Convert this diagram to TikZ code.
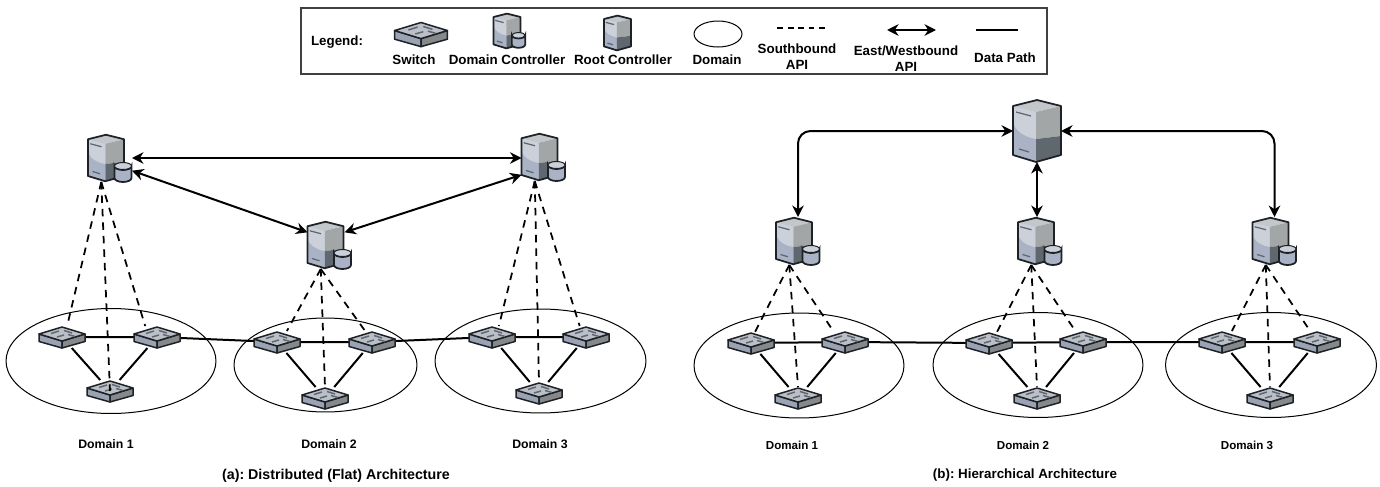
\documentclass[tikz,border=0pt]{standalone}
\usepackage{fontspec}
\setmainfont{Liberation Sans}
\frenchspacing
\usetikzlibrary{arrows.meta,shapes.geometric}

\definecolor{iconTop}{HTML}{C3C6CB}
\definecolor{iconPale}{HTML}{CBD0D9}
\definecolor{iconBlue}{HTML}{A9B3C5}
\definecolor{iconGrey}{HTML}{A3A6A6}
\definecolor{iconDark}{HTML}{5F676F}
\definecolor{iconLine}{HTML}{1E2226}
\definecolor{switchTop}{HTML}{BBBFC8}
\definecolor{switchLeft}{HTML}{9AA3B3}
\definecolor{switchRight}{HTML}{85898B}

\tikzset{
  switchicon/.pic={
    \filldraw[iconLine,fill=switchLeft,line width=.03cm,line join=round] (-23,-3) -- (0,4) -- (0,11) -- (-23,4.5) -- cycle;
    \filldraw[iconLine,fill=switchRight,line width=.03cm,line join=round] (23,-3) -- (0,4) -- (0,11) -- (23,4.5) -- cycle;
    \filldraw[iconLine,fill=switchTop,line width=.03cm,line join=round] (-23,-3) -- (0,-10) -- (23,-3) -- (0,4) -- cycle;
    \draw[iconDark,line width=.03cm] (-11,-3.5) -- (-3,-6) (2,-6.5) -- (10,-4) (-5,0) -- (2,-2) (6,-2.5) -- (13,-.5);
  },
  towericon/.pic={
    \fill[iconTop] (-24,-25) -- (0,-31) -- (24,-25) -- (-1,-19) -- cycle;
    \fill[iconBlue] (-24,-25) -- (-1,-19) -- (-1,31) -- (-24,24) -- cycle;
    \fill[iconPale] (-24,-25) -- (-1,-19) -- (-1,8) .. controls (-12,6) and (-24,0) .. (-24,-12) -- cycle;
    \fill[iconGrey] (-1,-19) -- (24,-25) -- (24,5) -- (-1,8) -- cycle;
    \fill[iconDark] (-1,8) -- (24,5) -- (24,24) -- (-1,31) -- cycle;
    \draw[iconLine,line width=.035cm,line join=round] (-24,-25) -- (0,-31) -- (24,-25) -- (24,24) -- (-1,31) -- (-24,24) -- cycle;
    \draw[iconDark,line width=.025cm] (-21,-19) -- (-6,-15) (-18,18) -- (-8,21);
  },
  dbicon/.pic={
    \filldraw[iconLine,fill=iconBlue,line width=.035cm] (-8.5,-6) -- (-8.5,6) arc[start angle=180,end angle=0,x radius=8.5,y radius=4] -- (8.5,-6) arc[start angle=0,end angle=180,x radius=8.5,y radius=4] -- cycle;
    \filldraw[iconLine,fill=iconPale,line width=.02cm] (0,-6) ellipse [x radius=8.5,y radius=3.5];
  },
  ctrlicon/.pic={
    \pic[scale=.75] at (-4,0) {towericon};
    \pic at (13,14) {dbicon};
  },
  ctrlbox/.style={minimum width=.88cm,minimum height=.96cm,inner sep=0pt,outer sep=0pt},
  switchbox/.style={minimum width=.92cm,minimum height=.44cm,inner sep=0pt,outer sep=0pt},
  rootbox/.style={minimum width=.96cm,minimum height=1.24cm,inner sep=0pt,outer sep=0pt},
  domainbox/.style={draw,ellipse,line width=.02cm,inner sep=0pt},
  eastwest/.style={{Stealth[length=.23cm,width=.23cm]}-{Stealth[length=.23cm,width=.23cm]},line width=.04cm},
  southbound/.style={dash pattern=on .15cm off .12cm,line width=.035cm},
  datapath/.style={line width=.04cm},
  txt/.style={font=\bfseries\fontsize{7.6}{9.1}\selectfont,align=center,inner sep=0pt},
  captiontxt/.style={txt,font=\bfseries\fontsize{8.1}{10}\selectfont}
}

\begin{document}
\begin{tikzpicture}[x=.02cm,y=-.02cm]
    \useasboundingbox (0,0) rectangle (1380,487);
    %
    % Legend
    \node[draw=black!75,line width=.035cm,minimum width=14.92cm,minimum height=1.32cm,inner sep=0pt] (legend) at (674,41) {};
    \node[txt] (legendTitle) at (337,42) {Legend:};
    \pic[scale=1.15] at (421,34) {switchicon};
    \node[txt] (legendSwitch) at (414,60) {Switch};
    \pic[scale=.56] at (507,31) {towericon};
    \pic[scale=.78] at (518.5,40) {dbicon};
    \node[txt] (legendDomainCtrl) at (507,60) {Domain Controller};
    \pic[scale=.56] at (617.5,33) {towericon};
    \node[txt] (legendRootCtrl) at (623,60) {Root Controller};
    \node[domainbox,minimum width=.96cm,minimum height=.52cm] (legendDomain) at (718,34) {};
    \node[txt] (legendDomainTxt) at (717,60) {Domain};
    \coordinate (southL) at (777,28);
    \coordinate (southR) at (825,28);
    \draw[southbound,dash pattern=on .12cm off .09cm,line width=.03cm] (southL) -- (southR);
    \node[txt] (legendSouth) at (797,57) {Southbound\\API};
    \coordinate (ewL) at (887,30);
    \coordinate (ewR) at (936,30);
    \draw[eastwest] (ewL) -- (ewR);
    \node[txt] (legendEW) at (906,59) {East/Westbound\\API};
    \coordinate (dataL) at (976,30);
    \coordinate (dataR) at (1018,30);
    \draw[datapath] (dataL) -- (dataR);
    \node[txt] (legendData) at (1005,58) {Data Path};
    %
    % Domains
    \foreach
    [
        var=\domName,
        var=\domX,
        var=\domY,
        var=\domW,
        var=\domH,
    ]
    in {d1/111/361/4.2cm/2.1cm,d2/325.5/365/3.66cm/1.88cm,d3/540.5/361/4.22cm/2.08cm,
        d4/799/365.5/4.2cm/2.1cm,d5/1038/365/4.2cm/2.1cm,d6/1271/365/4.22cm/2.1cm}%
    {
     \node[domainbox,minimum width=\domW,minimum height=\domH] (\domName) at (\domX,\domY) {};
    }
    %
    % Place nodes for the switches and the controllers
    \foreach
    [
        var=\swName,
        var=\swX,
        var=\swY,
    ]
    in {a1/62/337,a2/157/337,a3/110/391,b1/277/342,b2/372/342,b3/325/398,c1/492/337,c2/586/337,c3/539/393,
        e1/751/343,e2/845/342,e3/798/398,f1/989/343,f2/1083/342,f3/1037/398,g1/1222/342,g2/1317/342,g3/1270/398}%
    {
     \node[switchbox] (\swName) at (\swX,\swY) {};
    }
    \foreach
    [
        var=\ctName,
        var=\ctX,
        var=\ctY,
    ]
    in {ctrlA/110/158,ctrlB/329.5/245,ctrlC/543.5/157,ctrlE/798/241,ctrlF/1040/241,ctrlG/1274.5/241}%
    {
     \node[ctrlbox] (\ctName) at (\ctX,\ctY) {};
     \pic at (\ctName) {ctrlicon};
    }
    \node[rootbox] (root) at (1037,131) {};
    \pic at (root) {towericon};
    %
    % Data paths
    \foreach \swGroup in {a,b,c,e,f,g}
    {
     \draw[datapath] (\swGroup1) -- (\swGroup2) (\swGroup1) -- (\swGroup3) (\swGroup2) -- (\swGroup3);
    }
    \draw[datapath] (a2) -- (b1) (b2) -- (c1) (e2) -- (f1) (f2) -- (g1);
    \foreach \swName in {a1,a2,a3,b1,b2,b3,c1,c2,c3,e1,e2,e3,f1,f2,f3,g1,g2,g3}
    {
     \pic at (\swName) {switchicon};
    }
    %
    % Southbound API
    \foreach \ctName/\swGroup/\angL/\angR/\midAnchor in
        {ctrlA/a/65/137/center,ctrlB/b/48/122/north,ctrlC/c/58/120/north,
         ctrlE/e/70/137/north,ctrlF/f/54/125/north,ctrlG/g/48/122/north}
    {
     \draw[southbound] (\ctName.-110) -- (\swGroup1.\angL);
     \draw[southbound] (\ctName.-110) -- (\swGroup2.\angR);
     \draw[southbound] (\ctName.-110) -- (\swGroup3.\midAnchor);
    }
    %
    % East/Westbound API
    \draw[eastwest] (ctrlA.east) -- (ctrlA.east -| ctrlC.west);
    \draw[eastwest] (ctrlA.-30) -- (ctrlB.150);
    \draw[eastwest] (ctrlC.219) -- ([xshift=-.14cm]ctrlB.30);
    \draw[eastwest,rounded corners=.25cm] (root.west) -| (ctrlE.north);
    \draw[eastwest,rounded corners=.25cm] (root.east) -| (ctrlG.north);
    \draw[eastwest] (root.south) -- (root.south |- ctrlF.north);
    %
    % write labels
    \foreach
    [
        var=\lblName,
        var=\lblX,
        var=\lblY,
        var=\lblSize,
        var=\lblText,
    ]
    in {lblA/106/444/7/Domain 1,lblB/329/444/7/Domain 2,lblC/540/444/7/Domain 3,
        lblE/792/445/6.6/Domain 1,lblF/1023/445/6.6/Domain 2,lblG/1247/445/6.6/Domain 3}%
    {
     \node[txt,font=\bfseries\fontsize{\lblSize}{9}\selectfont] (\lblName) at (\lblX,\lblY) {\lblText};
    }
    \node[captiontxt] (captionA) at (336,476) {(a): Distributed (Flat) Architecture};
    \node[captiontxt,font=\bfseries\fontsize{7.6}{10}\selectfont] (captionB) at (1025,475) {(b): Hierarchical Architecture};
\end{tikzpicture}
\end{document}
